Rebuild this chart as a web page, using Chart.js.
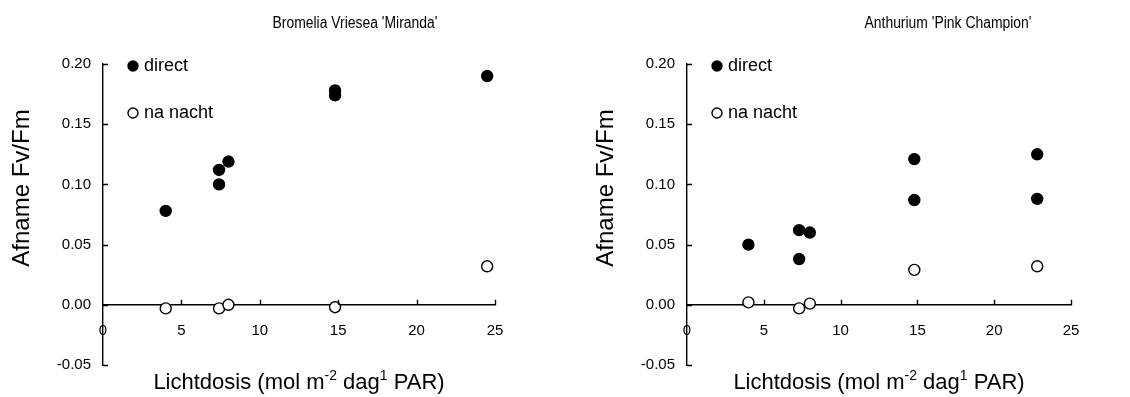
<!DOCTYPE html>
<html>
<head>
<meta charset="utf-8">
<script src="https://cdn.jsdelivr.net/npm/chart.js@4/dist/chart.umd.min.js"></script>
<style>
  html, body { margin: 0; padding: 0; background: #fff; }
  #wrap { position: relative; width: 1130px; height: 397px; }
  .panel { position: absolute; top: 0; height: 397px; }
</style>
</head>
<body>
<div id="wrap">
  <div class="panel" style="left:0;width:560px"><canvas id="left"></canvas></div>
  <div class="panel" style="left:560px;width:570px"><canvas id="right"></canvas></div>
</div>
<script>
// Bromelia Vriesea 'Miranda'
const bromeliaDirectX = [4, 7.4, 7.4, 8, 14.8, 14.8, 24.5];
const bromeliaDirectY = [0.078, 0.112, 0.100, 0.119, 0.178, 0.174, 0.190];
const bromeliaNachtX = [4, 7.4, 8, 14.8, 24.5];
const bromeliaNachtY = [-0.003, -0.003, 0.000, -0.002, 0.032];

// Anthurium 'Pink Champion'
const anthuriumDirectX = [4, 7.3, 7.3, 8, 14.8, 14.8, 22.8, 22.8];
const anthuriumDirectY = [0.050, 0.062, 0.038, 0.060, 0.121, 0.087, 0.125, 0.088];
const anthuriumNachtX = [4, 7.3, 8, 14.8, 22.8];
const anthuriumNachtY = [0.002, -0.003, 0.001, 0.029, 0.032];

const xTicks = [0, 5, 10, 15, 20, 25];
const yTicks = [-0.05, 0, 0.05, 0.10, 0.15, 0.20];
const seriesNames = ['direct', 'na nacht'];
const yTitle = 'Afname Fv/Fm';

const FONT = '"Liberation Sans", Arial, sans-serif';

function pts(xs, ys) {
    return xs.map((x, i) => ({ x: x, y: ys[i] }));
}

// draws the bits Chart.js can't: inward ticks, titles, legend
const decorPlugin = {
    id: 'decor',
    afterDraw(chart) {
        const ctx = chart.ctx;
        const xs = chart.scales.x, ys = chart.scales.y;
        const o = chart.options.plugins.decor;
        const area = chart.chartArea;
        const y0 = ys.getPixelForValue(0);
        ctx.save();
        ctx.strokeStyle = '#000';
        ctx.lineWidth = 1.4;
        ctx.beginPath();
        yTicks.forEach(v => {
            const p = Math.round(ys.getPixelForValue(v)) + 0.5;
            ctx.moveTo(area.left, p);
            ctx.lineTo(area.left + 5, p);
        });
        xTicks.slice(1).forEach(v => {
            const p = Math.round(xs.getPixelForValue(v)) + 0.5;
            ctx.moveTo(p, y0);
            ctx.lineTo(p, y0 - 5);
        });
        ctx.stroke();

        ctx.fillStyle = '#000';
        // panel title (a bit condensed like the original)
        ctx.save();
        ctx.translate(o.titleX, 24);
        ctx.scale(0.87, 1);
        ctx.font = '16px ' + FONT;
        ctx.textAlign = 'center';
        ctx.textBaseline = 'middle';
        ctx.fillText(o.title, 0, 0);
        ctx.restore();

        // y title
        ctx.save();
        ctx.translate(area.left - 81, 188);
        ctx.rotate(-Math.PI / 2);
        ctx.font = '24px ' + FONT;
        ctx.textAlign = 'center';
        ctx.textBaseline = 'middle';
        ctx.fillText(yTitle, 0, 0);
        ctx.restore();

        // x title with superscripts
        const parts = [
            ['Lichtdosis (mol m', false], ['-2', true], [' dag', false], ['1', true], [' PAR)', false]
        ];
        const big = '22px ' + FONT, small = '14px ' + FONT;
        let w = 0;
        parts.forEach(p => { ctx.font = p[1] ? small : big; w += ctx.measureText(p[0]).width; });
        let cx = (area.left + area.right) / 2 - w / 2;
        ctx.textAlign = 'left';
        ctx.textBaseline = 'alphabetic';
        parts.forEach(p => {
            ctx.font = p[1] ? small : big;
            ctx.fillText(p[0], cx, p[1] ? 380 : 389);
            cx += ctx.measureText(p[0]).width;
        });

        // legend
        const lx = area.left + 30;
        ctx.font = '18px ' + FONT;
        ctx.textBaseline = 'middle';
        [[66, '#000'], [113, '#fff']].forEach((l, i) => {
            ctx.beginPath();
            ctx.arc(lx, l[0], 5, 0, Math.PI * 2);
            ctx.fillStyle = l[1];
            ctx.fill();
            ctx.lineWidth = 1.4;
            ctx.strokeStyle = '#000';
            ctx.stroke();
            ctx.fillStyle = '#000';
            ctx.fillText(seriesNames[i], lx + 11, l[0]);
        });
        ctx.restore();
    }
};

function makeChart(id, direct, nacht, padLeft, padRight, title, titleX) {
    return new Chart(document.getElementById(id), {
        type: 'scatter',
        data: {
            datasets: [{
                label: seriesNames[0],
                data: direct,
                backgroundColor: '#000',
                borderColor: '#000',
                borderWidth: 1.4,
                pointRadius: 5.5
            }, {
                label: seriesNames[1],
                data: nacht,
                backgroundColor: '#fff',
                borderColor: '#000',
                borderWidth: 1.4,
                pointRadius: 5.5
            }]
        },
        options: {
            responsive: true,
            maintainAspectRatio: false,
            animation: false,
            layout: { padding: { left: padLeft, right: padRight, top: 64, bottom: 32 } },
            plugins: {
                legend: { display: false },
                tooltip: { enabled: false },
                decor: { title: title, titleX: titleX }
            },
            scales: {
                x: {
                    type: 'linear',
                    min: 0, max: 25,
                    position: { y: 0 },
                    afterFit(s) { s.height = 0; },
                    afterBuildTicks(s) { s.ticks = xTicks.map(v => ({ value: v })); },
                    grid: { display: true, drawOnChartArea: false, drawTicks: false },
                    border: { display: true, color: '#000', width: 1.4 },
                    ticks: {
                        padding: 17,
                        color: '#000',
                        font: { family: FONT, size: 15 },
                        maxRotation: 0,
                        callback: v => String(v)
                    }
                },
                y: {
                    type: 'linear',
                    min: -0.05, max: 0.20,
                    afterFit(s) { s.width = 60; },
                    afterBuildTicks(s) { s.ticks = yTicks.map(v => ({ value: v })); },
                    grid: { display: true, drawOnChartArea: false, drawTicks: false },
                    border: { display: true, color: '#000', width: 1.4 },
                    ticks: {
                        padding: 12,
                        color: '#000',
                        font: { family: FONT, size: 15 },
                        callback: v => Math.abs(v) < 1e-9 ? '0.00' : v.toFixed(2)
                    }
                }
            }
        },
        plugins: [decorPlugin]
    });
}

makeChart('left', pts(bromeliaDirectX, bromeliaDirectY), pts(bromeliaNachtX, bromeliaNachtY),
    43, 65, "Bromelia Vriesea 'Miranda'", 355);
makeChart('right', pts(anthuriumDirectX, anthuriumDirectY), pts(anthuriumNachtX, anthuriumNachtY),
    67, 59, "Anthurium 'Pink Champion'", 388);
</script>
</body>
</html>
